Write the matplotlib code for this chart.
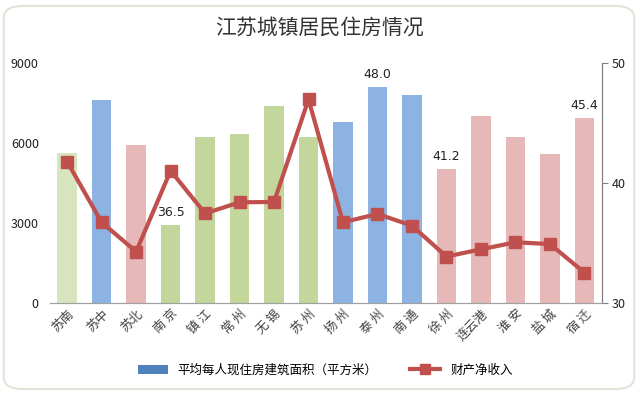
import matplotlib
matplotlib.use("Agg")
import matplotlib.pyplot as plt
from matplotlib.patches import FancyBboxPatch, Patch
from matplotlib.lines import Line2D

plt.rcParams['font.family'] = ['Noto Sans CJK SC', 'DejaVu Sans']

# data
regions = ["苏南", "苏中", "苏北", "南 京", "镇 江", "常 州", "无 锡", "苏 州",
           "扬 州", "泰 州", "南 通", "徐 州", "连云港", "淮 安", "盐 城", "宿 迁"]
area = [42.5, 46.9, 43.2, 36.5, 43.8, 44.1, 46.4, 43.8,
        45.1, 48.0, 47.3, 41.2, 45.6, 43.8, 42.4, 45.4]
income = [5300, 3025, 1925, 4960, 3360, 3775, 3790, 7640,
          3025, 3340, 2900, 1740, 2010, 2275, 2210, 1140]
labelled = ["南 京", "泰 州", "徐 州", "宿 迁"]

c_green0 = "#d7e4bd"
c_green = "#c3d69b"
c_blue = "#8db3e2"
c_pink = "#e6b9b8"
bar_colors = [c_green0, c_blue, c_pink] + [c_green] * 5 + [c_blue] * 3 + [c_pink] * 5
line_c = "#c0504d"

fig = plt.figure(figsize=(6.4, 3.97), dpi=100)
fig.patch.set_facecolor("white")
border = FancyBboxPatch((0.006, 0.02), 0.985, 0.965, boxstyle="round,pad=0,rounding_size=0.03",
                        transform=fig.transFigure, facecolor="white", edgecolor="#e3e3d8",
                        linewidth=1.5, zorder=-10)
fig.patches.append(border)

ax = fig.add_axes([0.078, 0.237, 0.862, 0.604])
x = list(range(len(regions)))
ax.bar(x, area, width=0.57, color=bar_colors, zorder=2)
ax.set_ylim(30, 50)
ax.set_yticks([30, 40, 50])
ax.set_xlim(-0.5, len(regions) - 0.5)
ax.set_xticks(x)
ax.set_xticklabels(regions, rotation=45, ha="right", rotation_mode="anchor",
                   fontsize=9, color="#404040")
for i, r in enumerate(regions):
    if r in labelled:
        ax.text(i, area[i] + 0.5, f"{area[i]:.1f}", ha="center", va="bottom",
                fontsize=9, color="#222222", family="DejaVu Sans")

ax2 = ax.twinx()
ax2.plot(x, income, color=line_c, linewidth=3, marker="s", markersize=9, zorder=3)
ax2.set_ylim(0, 9000)
ax2.set_yticks([0, 3000, 6000, 9000])

# bars' axis on the right, line's axis on the left
ax.yaxis.tick_right()
ax2.yaxis.tick_left()
ax2.tick_params(axis="y", length=0, labelsize=9, colors="#222222", pad=8)
ax.tick_params(axis="y", length=4, labelsize=9, colors="#222222", direction="out")
ax.tick_params(axis="x", length=0, pad=3)

for a in (ax, ax2):
    a.spines["top"].set_visible(False)
    a.spines["left"].set_visible(False)
    a.spines["right"].set_color("#808080")
    a.spines["bottom"].set_color("#a0a0a0")
ax.tick_params(axis="y", color="#808080")

fig.text(0.5, 0.93, "江苏城镇居民住房情况", ha="center", va="center",
         fontsize=15, color="#333333")

handles = [Patch(facecolor="#4f81bd"),
           Line2D([0], [0], color=line_c, lw=3, marker="s", markersize=7)]
fig.legend(handles, ["平均每人现住房建筑面积（平方米）", "财产净收入"],
           loc="center", bbox_to_anchor=(0.508, 0.068), ncol=2, frameon=False,
           fontsize=9, handlelength=2.4, columnspacing=2.6)

fig.savefig("out.png", dpi=100)
